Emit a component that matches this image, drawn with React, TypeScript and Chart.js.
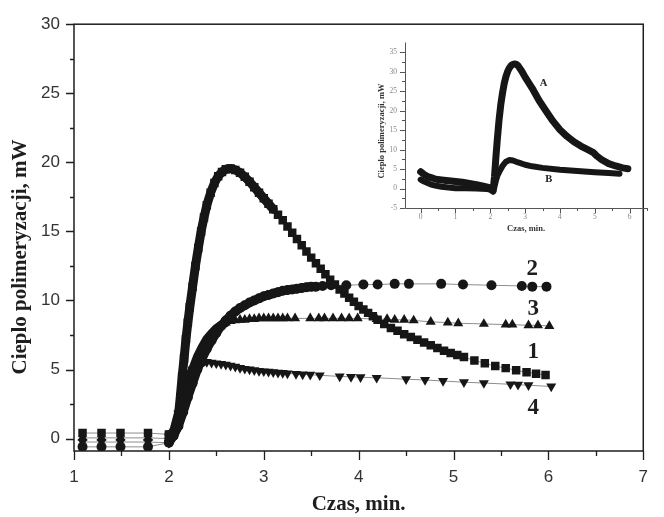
import React, { useEffect, useRef } from "react";
import { Chart, registerables } from "chart.js";

Chart.register(...registerables);

// ---------------- main chart data ----------------
const s1X = [1.09, 1.29, 1.49, 1.78, 2.0, 2.05, 2.08, 2.10, 2.12, 2.14, 2.16, 2.18, 2.20, 2.22, 2.25, 2.28, 2.31, 2.34, 2.37, 2.40, 2.44, 2.48, 2.52, 2.56, 2.60, 2.65, 2.70, 2.75, 2.80, 2.85, 2.90, 2.95, 3.00, 3.05, 3.10, 3.15, 3.20, 3.25, 3.30, 3.35, 3.40, 3.45, 3.50, 3.55, 3.60, 3.65, 3.70, 3.75, 3.80, 3.85, 3.90, 3.95, 4.00, 4.05, 4.10, 4.15, 4.20, 4.27, 4.34, 4.41, 4.48, 4.55, 4.62, 4.69, 4.76, 4.83, 4.90, 4.97, 5.04, 5.11, 5.22, 5.33, 5.44, 5.55, 5.66, 5.77, 5.87, 5.97];
const s1Y = [0.4, 0.4, 0.4, 0.4, 0.3, 0.3, 0.8, 1.6, 3.0, 4.5, 5.8, 7.2, 8.4, 9.5, 11.0, 12.5, 13.8, 15.0, 16.0, 16.9, 17.8, 18.5, 19.0, 19.3, 19.5, 19.55, 19.45, 19.25, 18.95, 18.6, 18.2, 17.8, 17.4, 17.0, 16.6, 16.2, 15.8, 15.35, 14.9, 14.45, 14.0, 13.55, 13.1, 12.7, 12.3, 11.9, 11.5, 11.15, 10.8, 10.5, 10.2, 9.9, 9.6, 9.35, 9.1, 8.85, 8.6, 8.3, 8.0, 7.8, 7.55, 7.35, 7.15, 6.95, 6.75, 6.55, 6.35, 6.2, 6.05, 5.9, 5.65, 5.45, 5.25, 5.1, 4.95, 4.8, 4.7, 4.6];

const s2X = [1.09, 1.29, 1.49, 1.78, 2.0, 2.05, 2.10, 2.15, 2.20, 2.25, 2.30, 2.35, 2.40, 2.45, 2.50, 2.55, 2.60, 2.65, 2.70, 2.75, 2.80, 2.85, 2.90, 2.95, 3.00, 3.05, 3.10, 3.15, 3.20, 3.25, 3.30, 3.35, 3.40, 3.45, 3.50, 3.55, 3.62, 3.71, 3.87, 4.05, 4.20, 4.38, 4.53, 4.87, 5.10, 5.40, 5.72, 5.83, 5.98];
const s2Y = [-0.6, -0.6, -0.6, -0.6, -0.3, 0.2, 0.9, 1.9, 3.0, 4.0, 5.0, 5.8, 6.5, 7.1, 7.65, 8.15, 8.55, 8.9, 9.2, 9.45, 9.65, 9.85, 10.0, 10.15, 10.3, 10.4, 10.5, 10.6, 10.7, 10.75, 10.8, 10.85, 10.9, 10.95, 11.0, 11.0, 11.05, 11.1, 11.1, 11.15, 11.15, 11.2, 11.2, 11.2, 11.15, 11.1, 11.05, 11.0, 11.0];

const s3X = [1.09, 1.29, 1.49, 1.78, 2.0, 2.05, 2.10, 2.15, 2.20, 2.25, 2.30, 2.35, 2.40, 2.45, 2.50, 2.55, 2.60, 2.65, 2.70, 2.75, 2.80, 2.85, 2.90, 2.95, 3.00, 3.05, 3.10, 3.15, 3.20, 3.25, 3.33, 3.49, 3.58, 3.64, 3.73, 3.82, 3.90, 3.99, 4.19, 4.30, 4.38, 4.48, 4.58, 4.76, 4.94, 5.05, 5.32, 5.55, 5.62, 5.79, 5.89, 6.01];
const s3Y = [0.05, 0.05, 0.05, 0.05, 0.0, 0.4, 1.3, 2.6, 3.9, 5.0, 5.9, 6.6, 7.2, 7.6, 7.95, 8.2, 8.4, 8.5, 8.55, 8.6, 8.6, 8.65, 8.65, 8.7, 8.7, 8.7, 8.7, 8.7, 8.7, 8.7, 8.7, 8.7, 8.7, 8.7, 8.7, 8.7, 8.7, 8.7, 8.65, 8.65, 8.6, 8.6, 8.55, 8.45, 8.4, 8.35, 8.3, 8.25, 8.25, 8.2, 8.2, 8.15];

const s4X = [1.09, 1.29, 1.49, 1.78, 2.0, 2.05, 2.10, 2.15, 2.20, 2.25, 2.30, 2.35, 2.40, 2.45, 2.50, 2.55, 2.60, 2.65, 2.70, 2.75, 2.80, 2.85, 2.90, 2.95, 3.00, 3.05, 3.10, 3.15, 3.20, 3.25, 3.34, 3.41, 3.49, 3.59, 3.80, 3.92, 4.02, 4.19, 4.50, 4.70, 4.89, 5.11, 5.32, 5.60, 5.68, 5.79, 6.03];
const s4Y = [-0.25, -0.25, -0.25, -0.25, -0.3, 0.5, 1.8, 3.2, 4.3, 5.0, 5.35, 5.5, 5.55, 5.5, 5.45, 5.4, 5.35, 5.28, 5.2, 5.12, 5.05, 5.0, 4.95, 4.9, 4.87, 4.84, 4.8, 4.77, 4.75, 4.72, 4.68, 4.65, 4.62, 4.58, 4.5, 4.47, 4.44, 4.4, 4.3, 4.24, 4.17, 4.08, 4.02, 3.93, 3.9, 3.86, 3.77];

const mainXTicks = [1, 2, 3, 4, 5, 6, 7];
const mainYTicks = [0, 5, 10, 15, 20, 25, 30];
const seriesNames = ["1", "2", "3", "4"];
const mainXTitle = "Czas, min.";
const mainYTitle = "Cieplo polimeryzacji, mW";

// ---------------- inset data ----------------
const aX = [0, 0.1, 0.2, 0.3, 0.4, 0.5, 0.6, 0.8, 1.0, 1.2, 1.4, 1.6, 1.8, 1.95, 2.03, 2.08, 2.12, 2.16, 2.2, 2.25, 2.3, 2.35, 2.4, 2.45, 2.5, 2.55, 2.6, 2.65, 2.7, 2.75, 2.8, 2.9, 3.0, 3.1, 3.2, 3.4, 3.6, 3.8, 4.0, 4.2, 4.4, 4.6, 4.8, 4.95, 5.05, 5.2, 5.4, 5.6, 5.8, 5.95];
const aY = [4.3, 3.6, 3.1, 2.8, 2.5, 2.3, 2.2, 2.0, 1.8, 1.6, 1.3, 1.0, 0.6, 0.3, 0.0, -0.6, 3.0, 8.0, 12.5, 17.5, 21.5, 24.5, 27.0, 28.8, 30.1, 31.0, 31.6, 31.9, 32.0, 31.9, 31.5, 30.2, 28.6, 27.2, 25.8, 22.6, 19.9, 17.3, 15.1, 13.4, 12.0, 10.9, 10.0, 9.3, 8.4, 7.4, 6.4, 5.8, 5.3, 5.1];
const bX = [0, 0.1, 0.2, 0.3, 0.45, 0.6, 0.8, 1.0, 1.3, 1.6, 1.9, 2.0, 2.08, 2.12, 2.16, 2.2, 2.27, 2.35, 2.45, 2.55, 2.65, 2.8, 3.0, 3.2, 3.5, 4.0, 4.5, 5.0, 5.4, 5.71];
const bY = [2.3, 1.8, 1.4, 1.0, 0.7, 0.45, 0.25, 0.1, 0.05, 0.0, -0.1, -0.3, -0.8, 0.5, 2.0, 3.2, 4.5, 5.8, 6.9, 7.3, 7.2, 6.7, 6.1, 5.7, 5.3, 4.8, 4.5, 4.2, 4.0, 3.8];
const insetXTicks = [0, 1, 2, 3, 4, 5, 6];
const insetYTicks = [-5, 0, 5, 10, 15, 20, 25, 30, 35];
const insetNames = ["A", "B"];

const SERIF = '"Liberation Serif", "Times New Roman", serif';
const SANS = '"Liberation Sans", Arial, sans-serif';
const INK = "#161616";

function pts(xs: number[], ys: number[]) {
  return xs.map((x, i) => ({ x, y: ys[i] }));
}

function thickSeg(limit: number) {
  const isThick = (c: any) => c.p0.parsed.x >= 1.99 && c.p1.parsed.x <= limit;
  return {
    borderColor: (c: any) => (isThick(c) ? INK : "#8d8d8d"),
    borderWidth: (c: any) => (isThick(c) ? 9 : 1),
  };
}

const mainDecor = {
  id: "mainDecor",
  afterDraw(chart: any) {
    const { ctx, chartArea: a } = chart;
    const x = chart.scales.x;
    const y = chart.scales.y;
    ctx.save();
    ctx.strokeStyle = "#1e1e1e";
    ctx.lineWidth = 1.5;
    ctx.strokeRect(a.left, a.top, a.right - a.left, a.bottom - a.top);
    ctx.lineWidth = 1.3;
    ctx.beginPath();
    for (let v = 0; v <= 30.001; v += 2.5) {
      const py = Math.round(y.getPixelForValue(v)) + 0.5;
      const len = Math.abs(v % 5) < 0.01 ? 8 : 4;
      ctx.moveTo(a.left - len, py);
      ctx.lineTo(a.left, py);
    }
    for (let v = 1; v <= 7.001; v += 0.5) {
      const px = Math.round(x.getPixelForValue(v)) + 0.5;
      const len = Math.abs(v % 1) < 0.01 ? 9 : 5;
      ctx.moveTo(px, a.bottom);
      ctx.lineTo(px, a.bottom + len);
    }
    ctx.stroke();

    ctx.fillStyle = "#1e1e1e";
    ctx.font = `bold 21px ${SERIF}`;
    ctx.textAlign = "center";
    ctx.textBaseline = "middle";
    ctx.fillText(mainXTitle, (a.left + a.right) / 2, 505);
    ctx.save();
    ctx.translate(21, 257);
    ctx.rotate(-Math.PI / 2);
    ctx.fillText(mainYTitle, 0, 0);
    ctx.restore();

    // series numbers
    const labelAt: [number, number][] = [
      [5.84, 6.24],
      [5.83, 12.3],
      [5.84, 9.39],
      [5.84, 2.22],
    ];
    ctx.font = `bold 23px ${SERIF}`;
    seriesNames.forEach((n, i) => {
      ctx.fillText(n, x.getPixelForValue(labelAt[i][0]), y.getPixelForValue(labelAt[i][1]));
    });
    ctx.restore();
  },
};

const insetDecor = {
  id: "insetDecor",
  afterDraw(chart: any) {
    const { ctx, chartArea: a } = chart;
    const x = chart.scales.x;
    const y = chart.scales.y;
    ctx.save();
    ctx.strokeStyle = "#555";
    ctx.lineWidth = 1;
    ctx.beginPath();
    ctx.moveTo(a.left + 0.5, a.top);
    ctx.lineTo(a.left + 0.5, a.bottom + 0.5);
    ctx.lineTo(a.right, a.bottom + 0.5);
    for (let v = -5; v <= 35.001; v += 2.5) {
      const py = Math.round(y.getPixelForValue(v)) + 0.5;
      const len = Math.abs(v % 5) < 0.01 ? 5 : 3;
      ctx.moveTo(a.left - len, py);
      ctx.lineTo(a.left, py);
    }
    for (let v = 0; v <= 6.5001; v += 0.5) {
      const px = Math.round(x.getPixelForValue(v)) + 0.5;
      const len = Math.abs(v % 1) < 0.01 ? 5 : 3;
      ctx.moveTo(px, a.bottom);
      ctx.lineTo(px, a.bottom + len);
    }
    ctx.stroke();

    ctx.fillStyle = "#333";
    ctx.font = `bold 8.5px ${SERIF}`;
    ctx.textAlign = "center";
    ctx.textBaseline = "middle";
    ctx.fillText(mainXTitle, (a.left + a.right) / 2, 199);
    ctx.save();
    ctx.translate(22, 101);
    ctx.rotate(-Math.PI / 2);
    ctx.fillText(mainYTitle, 0, 0);
    ctx.restore();

    const lab: [number, number][] = [
      [3.53, 27],
      [3.68, 2.5],
    ];
    ctx.fillStyle = "#222";
    ctx.font = `bold 10.5px ${SERIF}`;
    insetNames.forEach((n, i) => {
      ctx.fillText(n, x.getPixelForValue(lab[i][0]), y.getPixelForValue(lab[i][1]));
    });
    ctx.restore();
  },
};

function MainChart() {
  const ref = useRef<HTMLCanvasElement | null>(null);
  useEffect(() => {
    if (!ref.current) return;
    const base = {
      showLine: true,
      borderColor: "#8d8d8d",
      borderWidth: 1,
      pointBackgroundColor: INK,
      pointBorderColor: INK,
      pointBorderWidth: 0,
      borderCapStyle: "round",
      borderJoinStyle: "round",
      tension: 0,
    };
    const chart = new Chart(ref.current, {
      type: "scatter",
      data: {
        datasets: [
          { ...base, label: seriesNames[0], data: pts(s1X, s1Y), pointStyle: "rect", pointRadius: 6, segment: thickSeg(3.1) },
          { ...base, label: seriesNames[1], data: pts(s2X, s2Y), pointStyle: "circle", pointRadius: 5, segment: thickSeg(3.56) },
          { ...base, label: seriesNames[2], data: pts(s3X, s3Y), pointStyle: "triangle", pointRadius: 5.8, segment: thickSeg(2.6) },
          { ...base, label: seriesNames[3], data: pts(s4X, s4Y), pointStyle: "triangle", pointRotation: 180, pointRadius: 5.8, segment: thickSeg(2.36) },
        ] as any,
      },
      options: {
        animation: false,
        responsive: false,
        events: [],
        layout: { padding: { left: 0, top: 20, right: 3, bottom: 0 } },
        plugins: { legend: { display: false }, tooltip: { enabled: false } },
        scales: {
          x: {
            type: "linear",
            min: 1,
            max: 7,
            afterFit: (s: any) => { s.height = 66; },
            afterBuildTicks: (s: any) => { s.ticks = mainXTicks.map((v) => ({ value: v })); },
            grid: { display: false, drawTicks: false },
            border: { display: false },
            ticks: { color: "#333", font: { family: SANS, size: 17 }, padding: 16, maxRotation: 0 },
          },
          y: {
            type: "linear",
            min: -0.9,
            max: 30,
            afterFit: (s: any) => { s.width = 74; },
            afterBuildTicks: (s: any) => { s.ticks = mainYTicks.map((v) => ({ value: v })); },
            grid: { display: false, drawTicks: false },
            border: { display: false },
            ticks: { color: "#333", font: { family: SANS, size: 17 }, padding: 14 },
          },
        },
      } as any,
      plugins: [mainDecor],
    });
    return () => chart.destroy();
  }, []);
  return <canvas ref={ref} width={664} height={517} style={{ position: "absolute", left: 0, top: 0, width: 664, height: 517 }} />;
}

function InsetChart() {
  const ref = useRef<HTMLCanvasElement | null>(null);
  useEffect(() => {
    if (!ref.current) return;
    const chart = new Chart(ref.current, {
      type: "scatter",
      data: {
        datasets: [
          { label: insetNames[0], data: pts(aX, aY), showLine: true, borderColor: INK, borderWidth: 7, pointRadius: 0, borderJoinStyle: "round", borderCapStyle: "round" },
          { label: insetNames[1], data: pts(bX, bY), showLine: true, borderColor: INK, borderWidth: 6, pointRadius: 0, borderJoinStyle: "round", borderCapStyle: "round" },
        ] as any,
      },
      options: {
        animation: false,
        responsive: false,
        events: [],
        layout: { padding: { left: 0, top: 8, right: 13, bottom: 0 } },
        plugins: { legend: { display: false }, tooltip: { enabled: false } },
        scales: {
          x: {
            type: "linear",
            min: -0.45,
            max: 6.5,
            afterFit: (s: any) => { s.height = 37; },
            afterBuildTicks: (s: any) => { s.ticks = insetXTicks.map((v) => ({ value: v })); },
            grid: { display: false, drawTicks: false },
            border: { display: false },
            ticks: { color: "#888", font: { family: SERIF, size: 7.5 }, padding: 5, maxRotation: 0 },
          },
          y: {
            type: "linear",
            min: -5,
            max: 37.5,
            afterFit: (s: any) => { s.width = 45; },
            afterBuildTicks: (s: any) => { s.ticks = insetYTicks.map((v) => ({ value: v })); },
            grid: { display: false, drawTicks: false },
            border: { display: false },
            ticks: { color: "#888", font: { family: SERIF, size: 7.5 }, padding: 8 },
          },
        },
      } as any,
      plugins: [insetDecor],
    });
    return () => chart.destroy();
  }, []);
  return <canvas ref={ref} width={300} height={215} style={{ position: "absolute", left: 360, top: 30, width: 300, height: 215 }} />;
}

export default function App() {
  useEffect(() => {
    document.body.style.margin = "0";
    document.body.style.background = "#fff";
  }, []);
  return (
    <div style={{ position: "relative", width: 664, height: 517, background: "#fff", overflow: "hidden" }}>
      <MainChart />
      <InsetChart />
    </div>
  );
}
